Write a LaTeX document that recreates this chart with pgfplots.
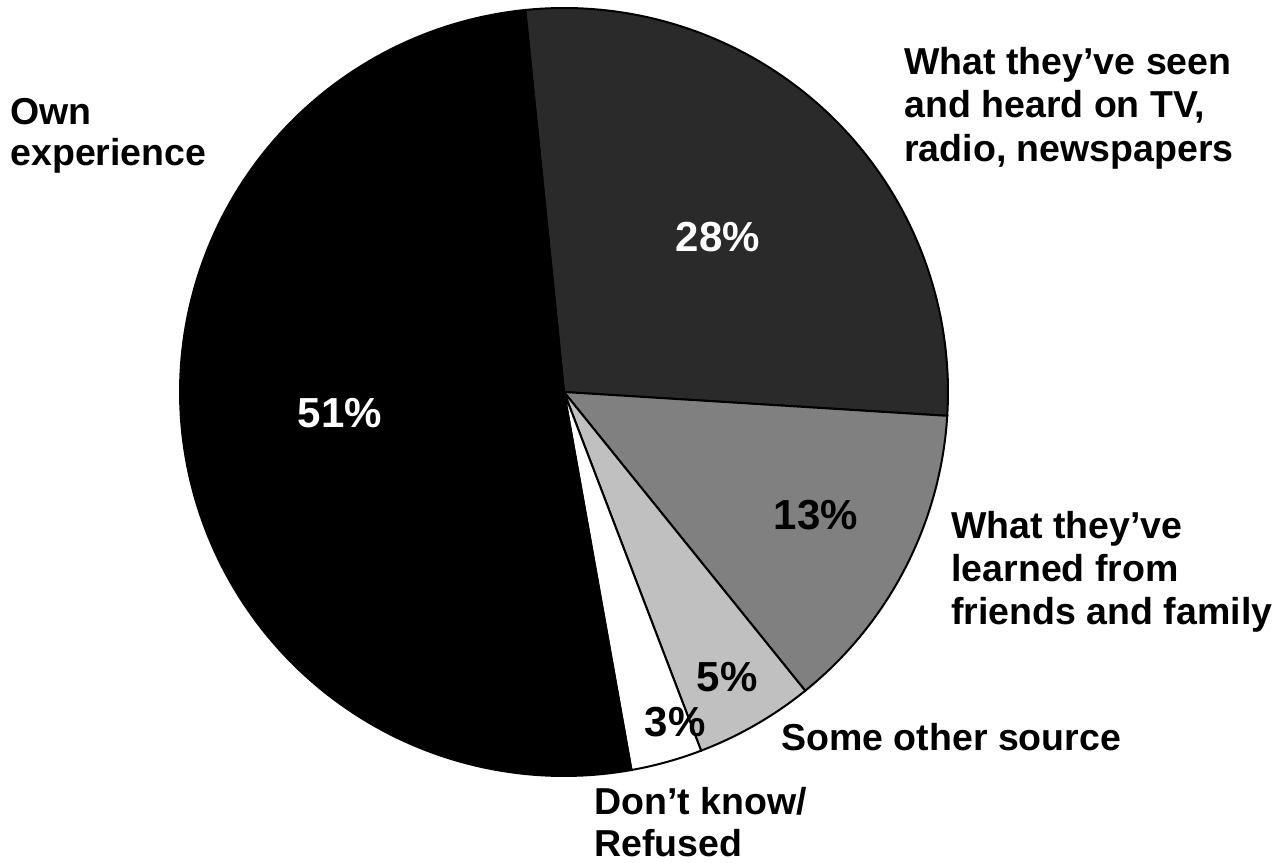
\documentclass[border=0pt]{standalone}
\usepackage{pgfplots}
\pgfplotsset{compat=1.18}
\usepackage{pgfplotstable}
\usepackage{fontspec}
\setmainfont{Liberation Sans}

\definecolor{sOwn}{HTML}{000000}
\definecolor{sTV}{HTML}{2A2A2A}
\definecolor{sFr}{HTML}{808080}
\definecolor{sOt}{HTML}{C0C0C0}
\definecolor{sDk}{HTML}{FFFFFF}

% share of each slice, in percent, clockwise from the top
\pgfplotstableread{
value
27.6
13.2
5.0
3.0
51.2
}\piedata

\pgfplotstablegetelem{0}{value}\of\piedata \let\vA\pgfplotsretval
\pgfplotstablegetelem{1}{value}\of\piedata \let\vB\pgfplotsretval
\pgfplotstablegetelem{2}{value}\of\piedata \let\vC\pgfplotsretval
\pgfplotstablegetelem{3}{value}\of\piedata \let\vD\pgfplotsretval
\pgfplotstablegetelem{4}{value}\of\piedata \let\vE\pgfplotsretval
\pgfmathsetmacro\aO{95.8}
\pgfmathsetmacro\aA{\aO-3.6*\vA}
\pgfmathsetmacro\aB{\aA-3.6*\vB}
\pgfmathsetmacro\aC{\aB-3.6*\vC}
\pgfmathsetmacro\aD{\aC-3.6*\vD}
\pgfmathsetmacro\aE{\aD-3.6*\vE}

\newcommand{\lab}{\bfseries\fontsize{18.75}{21.75}\selectfont}
\newcommand{\pct}{\bfseries\fontsize{21}{25}\selectfont}

\begin{document}
\begin{tikzpicture}
\begin{axis}[
  x=0.5pt, y=0.5pt,
  xmin=0, xmax=1274, ymin=0, ymax=862,
  hide axis, clip=false,
]
\path (axis cs:0,0) rectangle (axis cs:1274,862);
\addplot[draw=black, line width=1pt, fill=sTV, domain=\aA:\aO, samples=90, variable=\t]
  ({564+384*cos(\t)},{470+384*sin(\t)}) -- (axis cs:564,470) -- cycle;
\addplot[draw=black, line width=1pt, fill=sFr, domain=\aB:\aA, samples=60, variable=\t]
  ({564+384*cos(\t)},{470+384*sin(\t)}) -- (axis cs:564,470) -- cycle;
\addplot[draw=black, line width=1pt, fill=sOt, domain=\aC:\aB, samples=30, variable=\t]
  ({564+384*cos(\t)},{470+384*sin(\t)}) -- (axis cs:564,470) -- cycle;
\addplot[draw=black, line width=1pt, fill=sDk, domain=\aD:\aC, samples=20, variable=\t]
  ({564+384*cos(\t)},{470+384*sin(\t)}) -- (axis cs:564,470) -- cycle;
\addplot[draw=black, line width=1pt, fill=sOwn, domain=\aE:\aD, samples=150, variable=\t]
  ({564+384*cos(\t)},{470+384*sin(\t)}) -- (axis cs:564,470) -- cycle;

% percentages
\node[anchor=base, text=white, inner sep=0pt] at (axis cs:340,434) {\pct 51\%};
\node[anchor=base, text=white, inner sep=0pt] at (axis cs:718,610) {\pct 28\%};
\node[anchor=base, text=black, inner sep=0pt] at (axis cs:816,332) {\pct 13\%};
\node[anchor=base, text=black, inner sep=0pt] at (axis cs:727,170) {\pct 5\%};
\node[anchor=base, text=black, inner sep=0pt] at (axis cs:675,125) {\pct 3\%};

% category labels
\node[anchor=base west, inner sep=0pt] at (axis cs:10,737) {\lab Own};
\node[anchor=base west, inner sep=0pt] at (axis cs:10,696) {\lab experience};

\node[anchor=base west, inner sep=0pt] at (axis cs:904,787) {\lab What they’ve seen};
\node[anchor=base west, inner sep=0pt] at (axis cs:904,744) {\lab and heard on TV,};
\node[anchor=base west, inner sep=0pt] at (axis cs:904,700) {\lab radio, newspapers};

\node[anchor=base west, inner sep=0pt] at (axis cs:951,323) {\lab What they’ve};
\node[anchor=base west, inner sep=0pt] at (axis cs:951,280) {\lab learned from};
\node[anchor=base west, inner sep=0pt] at (axis cs:951,237) {\lab friends and family};

\node[anchor=base west, inner sep=0pt] at (axis cs:781,112) {\lab Some other source};

\node[anchor=base west, inner sep=0pt] at (axis cs:594,47) {\lab Don’t know/};
\node[anchor=base west, inner sep=0pt] at (axis cs:594,6) {\lab Refused};
\end{axis}
\end{tikzpicture}
\end{document}
